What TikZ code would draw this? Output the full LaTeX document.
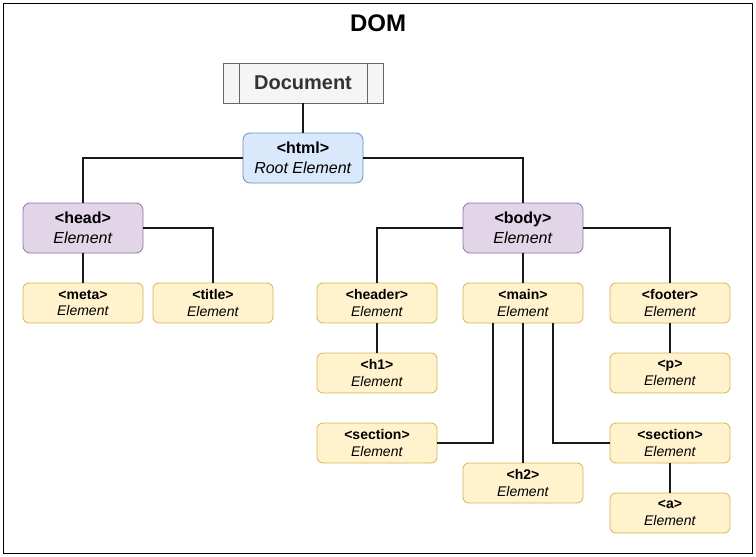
\documentclass[tikz,border=0pt]{standalone}
\usepackage{fontspec}
\setmainfont{Liberation Sans}
\usepackage{tikz}
\usetikzlibrary{positioning}
\definecolor{docfill}{HTML}{F5F5F5}
\definecolor{docline}{HTML}{666666}
\definecolor{doctext}{HTML}{333333}
\definecolor{rootfill}{HTML}{DAE8FC}
\definecolor{rootline}{HTML}{6C8EBF}
\definecolor{secfill}{HTML}{E1D5E7}
\definecolor{secline}{HTML}{9673A6}
\definecolor{leaffill}{HTML}{FFF2CC}
\definecolor{leafline}{HTML}{D6B656}

\begin{document}
\begin{tikzpicture}[x=1pt,y=-1pt,
    every node/.style={outer sep=0pt,inner sep=0pt,align=center},
    bigbox/.style={rounded corners=7pt,line width=0.8pt,minimum width=120pt,
      minimum height=50pt,font=\fontsize{16}{20}\selectfont},
    rootbox/.style={bigbox,draw=rootline,fill=rootfill},
    secbox/.style={bigbox,draw=secline,fill=secfill},
    leafbox/.style={rounded corners=6pt,line width=0.8pt,draw=leafline,fill=leaffill,
      minimum width=120pt,minimum height=40pt,font=\fontsize{14}{16.5}\selectfont},
    link/.style={line width=2pt,black!90}]
  \useasboundingbox (0,0) rectangle (756,557);
  \draw[line width=1pt] (3.5,3.5) rectangle (752.5,553.5);
  \node[font=\fontsize{24}{28}\selectfont\bfseries] (title) at (378,23) {DOM};

  % document and root
  \node[draw=docline,fill=docfill,line width=0.8pt,minimum width=160pt,
        minimum height=40pt,text=doctext,font=\fontsize{20}{24}\selectfont\bfseries]
        (doc) at (303,83) {Document};
  \draw[docline,line width=0.8pt] ([xshift=16pt]doc.north west) -- ([xshift=16pt]doc.south west);
  \draw[docline,line width=0.8pt] ([xshift=-16pt]doc.north east) -- ([xshift=-16pt]doc.south east);
  \node[rootbox,below=30pt of doc] (html) {\textbf{<html>}\\\textit{Root Element}};

  % head and body
  \node[secbox] (head) at (83,228) {\textbf{<head>}\\\textit{Element}};
  \node[secbox] (body) at (523,228) {\textbf{<body>}\\\textit{Element}};

  % leaves
  \node[leafbox,below=30pt of head] (meta) {\textbf{<meta>}\\\textit{Element}};
  \node[leafbox,right=10pt of meta] (titletag) {\textbf{<title>}\\\textit{Element}};
  \node[leafbox,below=30pt of body] (main) {\textbf{<main>}\\\textit{Element}};
  \node[leafbox] (header) at (377,303) {\textbf{<header>}\\\textit{Element}};
  \node[leafbox] (footer) at (670,303) {\textbf{<footer>}\\\textit{Element}};
  \node[leafbox,below=30pt of header] (h1) {\textbf{<h1>}\\\textit{Element}};
  \node[leafbox,below=30pt of footer] (p) {\textbf{<p>}\\\textit{Element}};
  \node[leafbox,below=30pt of h1] (sectionl) {\textbf{<section>}\\\textit{Element}};
  \node[leafbox,below=30pt of p] (sectionr) {\textbf{<section>}\\\textit{Element}};
  \node[leafbox,below=140pt of main] (h2) {\textbf{<h2>}\\\textit{Element}};
  \node[leafbox,below=30pt of sectionr] (a) {\textbf{<a>}\\\textit{Element}};

  % connectors
  \draw[link] (doc) -- (html);
  \draw[link] (html.west) -| (head.north);
  \draw[link] (html.east) -| (body.north);
  \draw[link] (head) -- (meta);
  \draw[link] (head.east) -| (titletag.north);
  \draw[link] (body.west) -| (header.north);
  \draw[link] (body) -- (main);
  \draw[link] (body.east) -| (footer.north);
  \draw[link] (header) -- (h1);
  \draw[link] (footer) -- (p);
  \draw[link] ([xshift=-30pt]main.south) |- (sectionl.east);
  \draw[link] (main) -- (h2);
  \draw[link] ([xshift=30pt]main.south) |- (sectionr.west);
  \draw[link] (sectionr) -- (a);
\end{tikzpicture}
\end{document}
